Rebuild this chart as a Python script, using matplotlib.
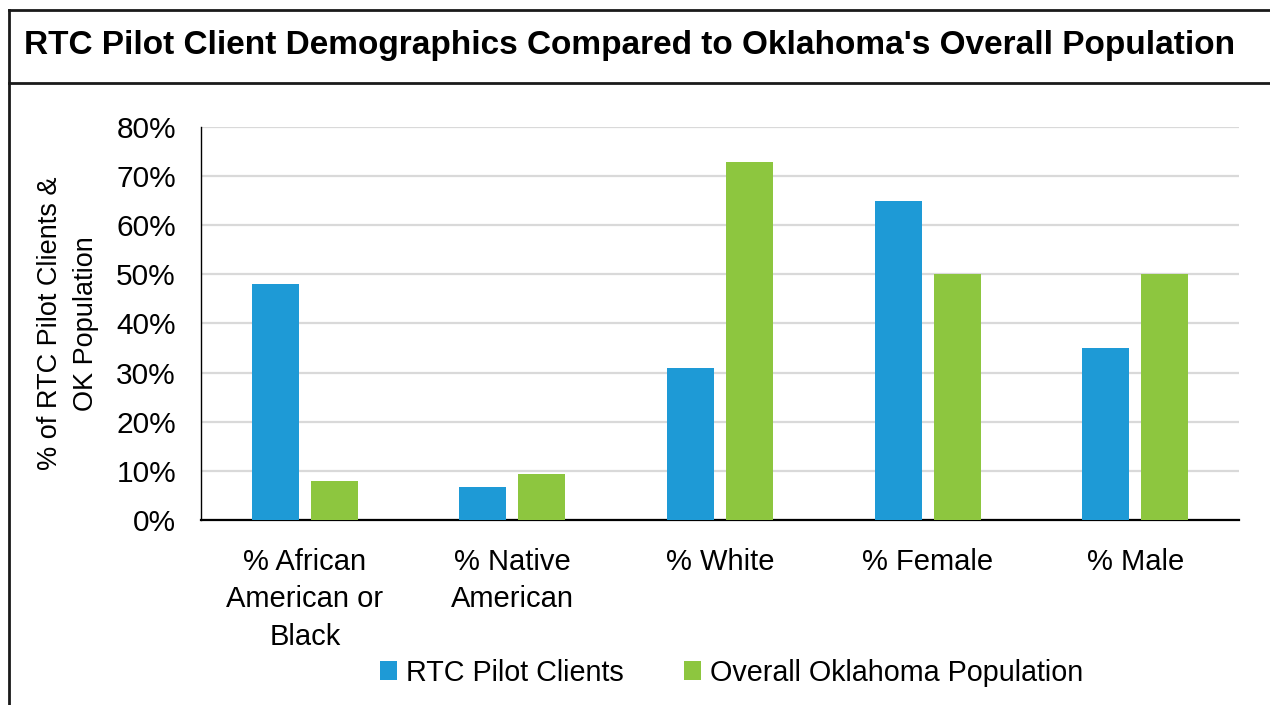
import matplotlib
matplotlib.use('Agg')
import matplotlib.pyplot as plt
from matplotlib.lines import Line2D
from matplotlib.ticker import PercentFormatter
import numpy as np

plt.rcParams['font.family'] = ['Liberation Sans', 'DejaVu Sans']

# データ
categories = ['% African\nAmerican or\nBlack', '% Native\nAmerican', '% White', '% Female', '% Male']
rtc_clients = [48.1, 6.8, 31.0, 65.0, 35.0]
ok_population = [8.0, 9.4, 72.8, 50.0, 50.0]
series_names = ['RTC Pilot Clients', 'Overall Oklahoma Population']
title = "RTC Pilot Client Demographics Compared to Oklahoma's Overall Population"
ylabel = '% of RTC Pilot Clients &\nOK Population'

blue = '#1E9AD6'
green = '#8DC63F'

fig = plt.figure(figsize=(12.7, 7.05), dpi=100)
ax = fig.add_axes([0.1583, 0.2624, 0.9756 - 0.1583, 0.8199 - 0.2624])

x = np.arange(len(categories))
w = 0.226
off = 0.142
ax.bar(x - off, rtc_clients, w, color=blue, label=series_names[0], zorder=3)
ax.bar(x + off, ok_population, w, color=green, label=series_names[1], zorder=3)

ax.set_xlim(-0.5, len(categories) - 0.5)
ax.set_ylim(0, 80)
ax.set_yticks(range(0, 81, 10))
ax.yaxis.set_major_formatter(PercentFormatter(xmax=100, decimals=0))
ax.grid(axis='y', color='#d9d9d9', linewidth=1.6, zorder=0)

ax.set_xticks(x)
ax.set_xticklabels(categories, fontsize=21, linespacing=1.43)
ax.tick_params(axis='x', length=0, pad=20)
ax.tick_params(axis='y', length=0, pad=18, labelsize=21.5)

for s in ['top', 'right']:
    ax.spines[s].set_visible(False)
ax.spines['left'].set_color('#000000')
ax.spines['left'].set_linewidth(1.0)
ax.spines['bottom'].set_color('#000000')
ax.spines['bottom'].set_linewidth(1.6)

# 縦軸ラベル（2行）
ax.set_ylabel(ylabel, fontsize=19.5, linespacing=1.5)
ax.yaxis.set_label_coords(-0.1285, 0.5)
ax.yaxis.label.set_va('center')

# タイトル
fig.text(0.4957, 0.935, title, fontsize=24, fontweight='bold',
         ha='center', va='center')

# 枠線
lc = '#1a1a1a'
fig.add_artist(Line2D([0.0067, 1.0], [0.9858, 0.9858], color=lc, linewidth=2))
fig.add_artist(Line2D([0.0067, 1.0], [0.8823, 0.8823], color=lc, linewidth=2))
fig.add_artist(Line2D([0.0067, 0.0067], [0.0, 0.9858], color=lc, linewidth=2))

fig.legend(loc='center', bbox_to_anchor=(0.576, 0.046), ncol=2, frameon=False,
           fontsize=20.7, handlelength=0.6, handleheight=0.6,
           handletextpad=0.3, columnspacing=2.1)

fig.savefig('out.png', dpi=100)
